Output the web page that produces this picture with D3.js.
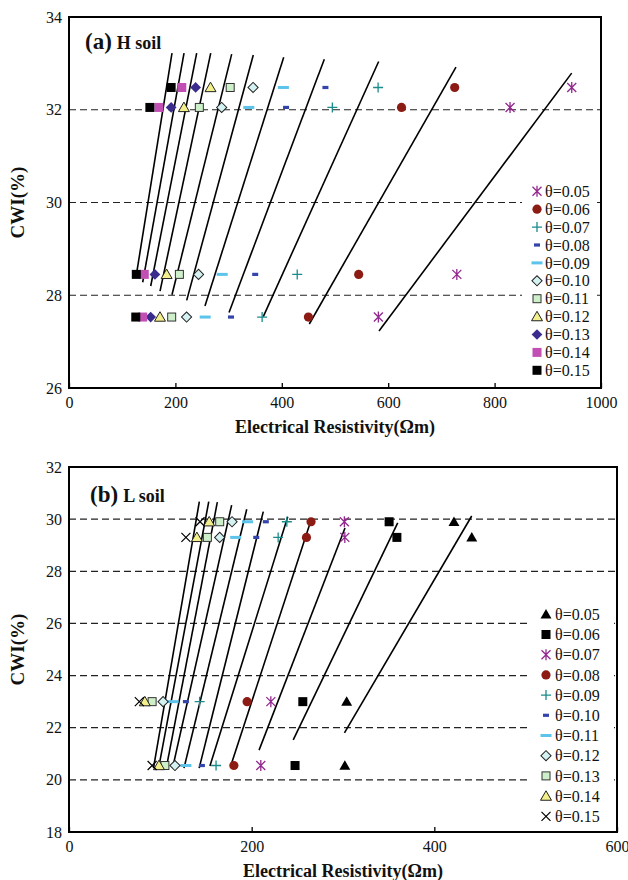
<!DOCTYPE html>
<html><head><meta charset="utf-8">
<script src="https://cdn.jsdelivr.net/npm/d3@7"></script>
<style>body{margin:0;background:#fff}svg{display:block}</style>
</head><body>
<svg id="c" width="628" height="880"></svg>
<script>
// ---------- DATA ----------
const THETA = ["θ=0.05","θ=0.06","θ=0.07","θ=0.08","θ=0.09","θ=0.10","θ=0.11","θ=0.12","θ=0.13","θ=0.14","θ=0.15"];

// Panel (a) H soil : resistivity per CWI row (theta 0.05 -> 0.15)
const H_CWI = [27.53, 28.45, 32.05, 32.48];
const H_ROW_2753 = [581.5, 450, 363, 304.5, 256, 221, 193, 171, 153.5, 138.5, 125.5];
const H_ROW_2845 = [729, 544.5, 429, 350, 288, 243.5, 207.5, 183.5, 161.5, 141.5, 126.5];
const H_ROW_3205 = [829, 625, 495, 408, 338, 287, 245, 216, 192, 169, 152];
const H_ROW_3248 = [945, 725, 581, 482, 403, 346, 303, 266, 238, 212, 192];
// fitted lines (a)
const H_LINE_TOP_R   = [944.9, 727.4, 582.1, 479.9, 403.6, 346.4, 305.8, 266.4, 240.0, 216.2, 193.6];
const H_LINE_TOP_CWI = [32.79, 32.92, 33.04, 33.09, 33.13, 33.18, 33.20, 33.22, 33.22, 33.22, 33.22];
const H_LINE_BOT_R   = [582.7, 451.7, 365.2, 300.8, 255.6, 221.2, 193.6, 171.1, 153.6, 138.5, 127.3];
const H_LINE_BOT_CWI = [27.23, 27.38, 27.54, 27.63, 27.77, 27.89, 28.01, 28.09, 28.20, 28.28, 28.49];

// Panel (b) L soil
const L_CWI = [20.55, 23.0, 29.3, 29.9];
const L_ROW_2055 = [302, 247.5, 210, 180.5, 161, 145.5, 128, 116, 105, 98.5, 91];
const L_ROW_2300 = [304, 256, 221, 195, 143, 128, 114, 103, 91, 83, 77];
const L_ROW_2930 = [441, 359, 302, 260, 229, 205, 182.5, 165, 151.5, 140, 128];
const L_ROW_2990 = [421.5, 350.5, 301.5, 265, 238.5, 215.5, 195.5, 178.5, 165, 153.5, 143.5];
// fitted lines (b)
const L_LINE_TOP_R   = [440.9, 359.9, 302.2, 265.7, 239.5, 212.7, 194.6, 178.1, 162.4, 153.0, 142.7];
const L_LINE_TOP_CWI = [30.12, 29.86, 29.66, 30.03, 30.09, 30.29, 30.38, 30.54, 30.65, 30.67, 30.67];
const L_LINE_BOT_R   = [301.6, 245.5, 208.1, 177.4, 154.3, 142.5, 125.9, 113.4, 106.5, 98.1, 92.5];
const L_LINE_BOT_CWI = [21.80, 21.53, 21.14, 20.57, 20.53, 20.45, 20.45, 20.45, 20.45, 20.45, 20.45];

const A_XTICKS = [0, 200, 400, 600, 800, 1000];
const A_YTICKS = [26, 28, 30, 32, 34];
const A_GRID = [28, 30, 32];
const B_XTICKS = [0, 200, 400, 600];
const B_YTICKS = [18, 20, 22, 24, 26, 28, 30, 32];
const B_GRID = [20, 22, 24, 26, 28, 30];

// ---------- STYLE ----------
const SERIF = "'Liberation Serif','Times New Roman',serif";
const A_MARKERS = ["star","circle","plus","dashS","dashL","diamondLight","squareLight","triangleLight","diamondDark","squareMag","squareBlack"];
const B_MARKERS = ["triangleBlack","squareBlack","star","circle","plus","dashS","dashL","diamondLight","squareLight","triangleLight","xcross"];

function marker(sel, type, x, y) {
  const g = sel.append("g").attr("transform", `translate(${x},${y})`);
  const tri = d3.symbol().type(d3.symbolTriangle).size(52)();
  switch (type) {
    case "squareBlack": g.append("rect").attr("x",-4.5).attr("y",-4.5).attr("width",9).attr("height",9).attr("fill","#000"); break;
    case "squareMag": g.append("rect").attr("x",-4.5).attr("y",-4.5).attr("width",9).attr("height",9).attr("fill","#C24FB4"); break;
    case "squareLight": g.append("rect").attr("x",-4).attr("y",-4).attr("width",8).attr("height",8).attr("fill","#CDEFC9").attr("stroke","#333").attr("stroke-width",1); break;
    case "diamondDark": g.append("rect").attr("x",-3.8).attr("y",-3.8).attr("width",7.6).attr("height",7.6).attr("fill","#3A2C8C").attr("transform","rotate(45)"); break;
    case "diamondLight": g.append("rect").attr("x",-3.6).attr("y",-3.6).attr("width",7.2).attr("height",7.2).attr("fill","#D5F2F2").attr("stroke","#222").attr("stroke-width",1).attr("transform","rotate(45)"); break;
    case "triangleLight": g.append("path").attr("d",tri).attr("transform","translate(0,1)").attr("fill","#F2EF8C").attr("stroke","#222").attr("stroke-width",1); break;
    case "triangleBlack": g.append("path").attr("d",tri).attr("transform","translate(0,1)").attr("fill","#000"); break;
    case "circle": g.append("circle").attr("r",4.6).attr("fill","#8C1B14"); break;
    case "plus":
      g.append("path").attr("d","M-5,0H5M0,-5V5").attr("stroke","#1B8C8C").attr("stroke-width",1.3).attr("fill","none"); break;
    case "xcross":
      g.append("path").attr("d","M-4.5,-4.5L4.5,4.5M-4.5,4.5L4.5,-4.5").attr("stroke","#000").attr("stroke-width",1.2).attr("fill","none"); break;
    case "star":
      g.append("path").attr("d","M-4.5,-4.5L4.5,4.5M-4.5,4.5L4.5,-4.5M0,-5.5V5.5").attr("stroke","#93288F").attr("stroke-width",1.3).attr("fill","none"); break;
    case "dashS": g.append("rect").attr("x",-3).attr("y",-1.6).attr("width",6).attr("height",3.2).attr("fill","#3344AA"); break;
    case "dashL": g.append("rect").attr("x",-5.5).attr("y",-1.5).attr("width",11).attr("height",3).attr("fill","#5CC4EA"); break;
  }
}

const svg = d3.select("#c");

function panel(cfg) {
  const x = d3.scaleLinear().domain(cfg.xDomain).range(cfg.xRange);
  const y = d3.scaleLinear().domain(cfg.yDomain).range(cfg.yRange);
  const g = svg.append("g");
  // grid
  g.selectAll("line.grid").data(cfg.grid).enter().append("line")
    .attr("x1", x(cfg.xDomain[0])).attr("x2", x(cfg.xDomain[1]))
    .attr("y1", d => y(d)).attr("y2", d => y(d))
    .attr("stroke", "#222").attr("stroke-width", 1.2).attr("stroke-dasharray", "7,4");
  // fitted lines
  const lines = cfg.lineTopR.map((r, i) => [[r, cfg.lineTopC[i]], [cfg.lineBotR[i], cfg.lineBotC[i]]]);
  g.selectAll("line.fit").data(lines).enter().append("line")
    .attr("x1", d => x(d[0][0])).attr("y1", d => y(d[0][1]))
    .attr("x2", d => x(d[1][0])).attr("y2", d => y(d[1][1]))
    .attr("stroke", "#000").attr("stroke-width", 1.6);
  // points
  cfg.rows.forEach((row, ri) => {
    row.forEach((r, si) => marker(g, cfg.markers[si], x(r), y(cfg.cwi[ri])));
  });
  // legend
  const lg = g.append("g");
  lg.append("rect").attr("x", cfg.legend.x0).attr("y", cfg.legend.y0)
    .attr("width", cfg.legend.w).attr("height", cfg.legend.h).attr("fill", "#fff");
  THETA.forEach((t, i) => {
    const ly = cfg.legend.top + i * cfg.legend.step;
    marker(lg, cfg.markers[i], cfg.legend.mx, ly);
    lg.append("text").attr("x", cfg.legend.tx).attr("y", ly).attr("dy", "0.35em")
      .attr("font-family", SERIF).attr("font-size", 16).attr("fill", "#111").text(t);
  });
  // axes
  const xAxis = d3.axisBottom(x).tickValues(cfg.xTicks).tickSize(-5).tickPadding(9).tickFormat(d3.format("d"));
  const yAxis = d3.axisLeft(y).tickValues(cfg.yTicks).tickSize(0).tickPadding(7).tickFormat(d3.format("d"));
  const gx = g.append("g").attr("transform", `translate(0,${cfg.yRange[0]})`).call(xAxis);
  const gy = g.append("g").attr("transform", `translate(${cfg.xRange[0]},0)`).call(yAxis);
  [gx, gy].forEach(a => {
    a.select(".domain").remove();
    a.selectAll("text").attr("font-family", SERIF).attr("font-size", 16).attr("fill", "#111");
    a.selectAll("line").attr("stroke", "#000").attr("stroke-width", 1.3);
  });
  // frame
  g.append("rect").attr("x", cfg.xRange[0]).attr("y", cfg.yRange[1])
    .attr("width", cfg.xRange[1] - cfg.xRange[0]).attr("height", cfg.yRange[0] - cfg.yRange[1])
    .attr("fill", "none").attr("stroke", "#000").attr("stroke-width", 2);
  // titles
  g.append("text").attr("x", (cfg.xRange[0] + cfg.xRange[1]) / 2).attr("y", cfg.yRange[0] + 45)
    .attr("text-anchor", "middle").attr("font-family", SERIF).attr("font-weight", "bold")
    .attr("font-size", 18).attr("fill", "#111").text("Electrical Resistivity(Ωm)");
  const cy = (cfg.yRange[0] + cfg.yRange[1]) / 2;
  g.append("text").attr("transform", `translate(24,${cy}) rotate(-90)`)
    .attr("text-anchor", "middle").attr("font-family", SERIF).attr("font-weight", "bold")
    .attr("font-size", 19).attr("fill", "#111").text("CWI(%)");
  const pl = g.append("text").attr("x", cfg.label.x).attr("y", cfg.label.y)
    .attr("font-family", SERIF).attr("font-weight", "bold").attr("fill", "#111");
  pl.append("tspan").attr("font-size", 23).text(cfg.label.a);
  pl.append("tspan").attr("font-size", 18).attr("dx", 5).text(cfg.label.b);
}

panel({
  xDomain: [0, 1000], xRange: [69, 601], yDomain: [26, 34], yRange: [388, 17],
  xTicks: A_XTICKS, yTicks: A_YTICKS, grid: A_GRID,
  cwi: H_CWI, rows: [H_ROW_2753, H_ROW_2845, H_ROW_3205, H_ROW_3248],
  lineTopR: H_LINE_TOP_R, lineTopC: H_LINE_TOP_CWI, lineBotR: H_LINE_BOT_R, lineBotC: H_LINE_BOT_CWI,
  markers: A_MARKERS,
  legend: { x0: 522, y0: 180, w: 72, h: 200, top: 191.3, step: 17.9, mx: 537, tx: 545 },
  label: { x: 85, y: 49, a: "(a)", b: "H soil" }
});

panel({
  xDomain: [0, 600], xRange: [69, 617], yDomain: [18, 32], yRange: [832, 467],
  xTicks: B_XTICKS, yTicks: B_YTICKS, grid: B_GRID,
  cwi: L_CWI, rows: [L_ROW_2055, L_ROW_2300, L_ROW_2930, L_ROW_2990],
  lineTopR: L_LINE_TOP_R, lineTopC: L_LINE_TOP_CWI, lineBotR: L_LINE_BOT_R, lineBotC: L_LINE_BOT_CWI,
  markers: B_MARKERS,
  legend: { x0: 530, y0: 603, w: 84, h: 224, top: 614.3, step: 20.2, mx: 546, tx: 555 },
  label: { x: 90, y: 502, a: "(b)", b: "L soil" }
});
</script>
</body></html>
